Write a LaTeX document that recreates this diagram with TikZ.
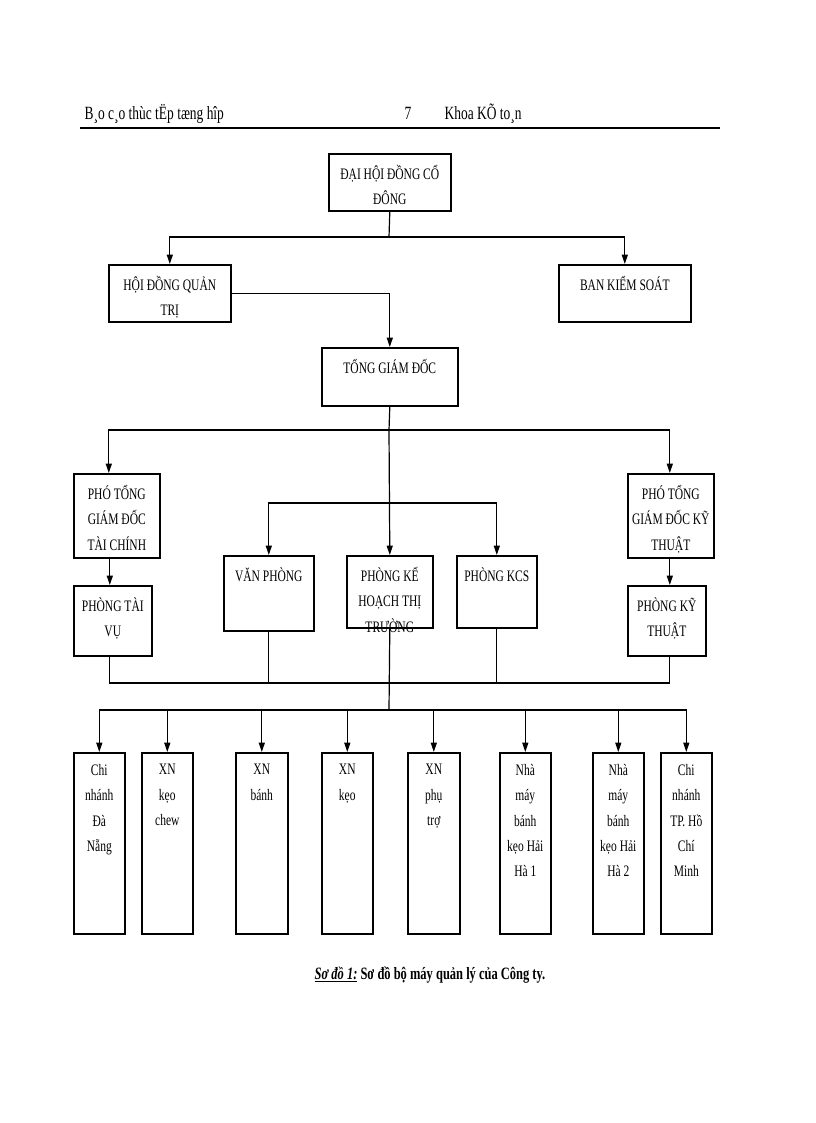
\documentclass[tikz,border=0pt]{standalone}
\usepackage{fontspec}
\setmainfont[FakeStretch=0.72]{Liberation Serif}
\usetikzlibrary{arrows.meta}
\tikzset{
	box/.style={draw, line width=1.2pt, rectangle, anchor=north west, inner sep=0pt},
	lbl/.style={anchor=north, align=center, inner sep=0pt, font=\fontsize{12}{19}\selectfont},
	link/.style={line width=0.9pt},
	arr/.style={link, -{Triangle[length=7pt, width=4.5pt]}}
}
% box: name, left, top, width, height, text
\newcommand{\bx}[6]{%
	\node[box, minimum width=#4*0.75pt, minimum height=#5*0.75pt] (#1) at (#2,#3) {};
	\node[lbl] (#1t) at ([yshift=-12*0.75pt]#1.north) {#6};}
\begin{document}
\begin{tikzpicture}[x=0.75pt, y=-0.75pt]
	\useasboundingbox (0,0) rectangle (816,1123);
	% header
	\node[anchor=base west, font=\fontsize{14}{16}\selectfont] (hl) at (80,120) {B¸o c¸o thùc tËp tæng hîp};
	\node[anchor=base west, font=\fontsize{14}{16}\selectfont] (hp) at (400,120) {7};
	\node[anchor=base west, font=\fontsize{14}{16}\selectfont] (hr) at (440,120) {Khoa KÕ to¸n};
	\coordinate (ha) at (80,128);
	\coordinate (hb) at (720,128);
	\draw[line width=1.3pt] (ha) -- (hb);

	\bx{dhcd}{328}{153}{122}{57}{ĐẠI HỘI ĐỒNG CỔ\\ĐÔNG}
	\bx{hdqt}{108}{264}{122}{57}{HỘI ĐỒNG QUẢN\\TRỊ}
	\bx{bks}{558}{264}{132}{57}{BAN KIỂM SOÁT}
	\bx{tgd}{321}{347}{136}{58}{TỔNG GIÁM ĐỐC}
	\bx{pgtc}{73}{473}{86}{84}{PHÓ TỔNG\\GIÁM ĐỐC\\TÀI CHÍNH}
	\bx{pgkt}{627}{473}{86}{84}{PHÓ TỔNG\\GIÁM ĐỐC KỸ\\THUẬT}
	\bx{ptv}{73}{585}{78}{70}{PHÒNG TÀI\\VỤ}
	\bx{pkt}{627}{585}{78}{70}{PHÒNG KỸ\\THUẬT}
	\bx{vp}{223}{555}{90}{75}{VĂN PHÒNG}
	\bx{pkh}{346}{555}{86}{72}{PHÒNG KẾ\\HOẠCH THỊ\\TRƯỜNG}
	\bx{kcs}{456}{555}{80}{72}{PHÒNG KCS}

	\bx{cdn}{73}{752}{51}{181}{Chi\\nhánh\\Đà\\Nẵng}
	\bx{xkc}{141}{752}{51}{181}{XN\\kẹo\\chew}
	\bx{xb}{235}{752}{52}{181}{XN\\bánh}
	\bx{xk}{321}{752}{51}{181}{XN\\kẹo}
	\bx{xpt}{407}{752}{52}{181}{XN\\phụ\\trợ}
	\bx{nm1}{499}{752}{51}{181}{Nhà\\máy\\bánh\\kẹo Hải\\Hà 1}
	\bx{nm2}{592}{752}{51}{181}{Nhà\\máy\\bánh\\kẹo Hải\\Hà 2}
	\bx{chcm}{660}{752}{51}{181}{Chi\\nhánh\\TP. Hồ\\Chí\\Minh}

	% connectors
	\coordinate (b1) at (389,237);
	\draw[link] (dhcd.south) -- (b1);
	\draw[arr] (b1) -| (hdqt.north);
	\draw[arr] (b1) -| (bks.north);
	\draw[arr] (hdqt.east) -| (tgd.north);

	\coordinate (b2) at (389,430);
	\coordinate (b3) at (389,503);
	\draw[link] (tgd.south) -- (b2);
	\draw[arr] (b2) -| ([xshift=-8*0.75pt]pgtc.north);
	\draw[arr] (b2) -| ([xshift=-1*0.75pt]pgkt.north);
	\draw[arr] (b2) -- (pkh.north);
	\draw[arr] (b3) -| (vp.north);
	\draw[arr] (b3) -| (kcs.north);
	\draw[arr] ([xshift=-7*0.75pt]pgtc.south) -- ([xshift=-3*0.75pt]ptv.north);
	\draw[arr] ([xshift=-1*0.75pt]pgkt.south) -- ([xshift=3*0.75pt]pkt.north);

	\coordinate (b4) at (389,683);
	\coordinate (b5) at (389,710);
	\draw[link] ([xshift=-3*0.75pt]ptv.south) |- (b4) -| ([xshift=3*0.75pt]pkt.south);
	\draw[link] (vp.south) -- (vp.south |- b4);
	\draw[link] (kcs.south) -- (kcs.south |- b4);
	\draw[link] (pkh.south) -- (b5);
	\foreach \n in {cdn, xkc, xb, xk, xpt, nm1, nm2, chcm}
		\draw[arr] (b5) -| (\n.north);

	% caption
	\node[font=\bfseries\fontsize{13}{15}\selectfont] (cap) at (430,975) {\textit{\underline{Sơ đồ 1:}} Sơ đồ bộ máy quản lý của Công ty.};
\end{tikzpicture}
\end{document}
